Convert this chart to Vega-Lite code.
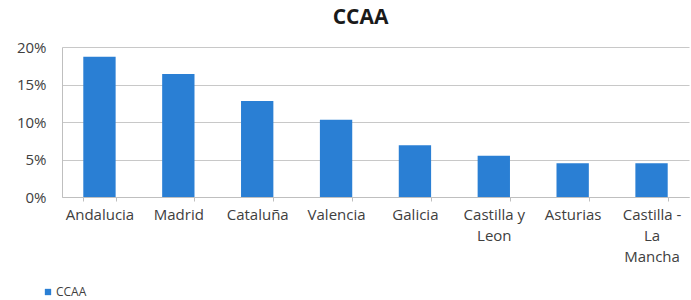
{
  "$schema": "https://vega.github.io/schema/vega-lite/v6.json",
  "autosize": "none",
  "width": 627,
  "height": 150,
  "padding": {"left": 62, "top": 47, "right": 2, "bottom": 103},
  "background": "white",
  "title": {"text": "CCAA", "font": "Open Sans", "fontSize": 21, "fontWeight": "bold", "color": "#1a1a1a", "offset": 12, "dx": -15},
  "data": {"values": [
    {"region": "Andalucia", "share": 0.187, "series": "CCAA"},
    {"region": "Madrid", "share": 0.164, "series": "CCAA"},
    {"region": "Cataluña", "share": 0.128, "series": "CCAA"},
    {"region": "Valencia", "share": 0.103, "series": "CCAA"},
    {"region": "Galicia", "share": 0.069, "series": "CCAA"},
    {"region": "Castilla y Leon", "share": 0.055, "series": "CCAA"},
    {"region": "Asturias", "share": 0.045, "series": "CCAA"},
    {"region": "Castilla - La Mancha", "share": 0.045, "series": "CCAA"}
  ]},
  "mark": {"type": "bar"},
  "encoding": {
    "x": {
      "field": "region", "type": "nominal", "sort": null,
      "scale": {"paddingInner": 0.59, "paddingOuter": 0.27},
      "axis": {
        "title": null, "labelAngle": 0, "labelFont": "Open Sans", "labelFontSize": 15, "labelColor": "#404040",
        "labelPadding": 6, "labelLineHeight": 21, "labelBaseline": "top", "labelOverlap": false,
        "tickBand": "extent", "tickSize": 4, "tickColor": "#bfbfbf", "domainColor": "#bfbfbf",
        "labelExpr": "datum.label == 'Castilla y Leon' ? ['Castilla y', 'Leon'] : datum.label == 'Castilla - La Mancha' ? ['Castilla -', 'La', 'Mancha'] : datum.label"
      }
    },
    "y": {
      "field": "share", "type": "quantitative",
      "scale": {"domain": [0, 0.2]},
      "axis": {
        "title": null, "format": ".0%", "values": [0, 0.05, 0.1, 0.15, 0.2], "labelOverlap": false,
        "labelFont": "Open Sans", "labelFontSize": 15, "labelColor": "#404040", "labelPadding": 16,
        "ticks": false, "domain": true, "domainColor": "#bfbfbf",
        "grid": true, "gridColor": "#c8c8c8"
      }
    },
    "color": {
      "field": "series", "type": "nominal",
      "scale": {"range": ["#2a7fd4"]},
      "legend": {
        "title": null, "orient": "none", "legendX": -20, "legendY": 239,
        "symbolType": "square", "symbolSize": 40, "labelFont": "Open Sans", "labelFontSize": 12, "labelColor": "#404040", "labelOffset": 2
      }
    }
  },
  "config": {"view": {"stroke": null}}
}
